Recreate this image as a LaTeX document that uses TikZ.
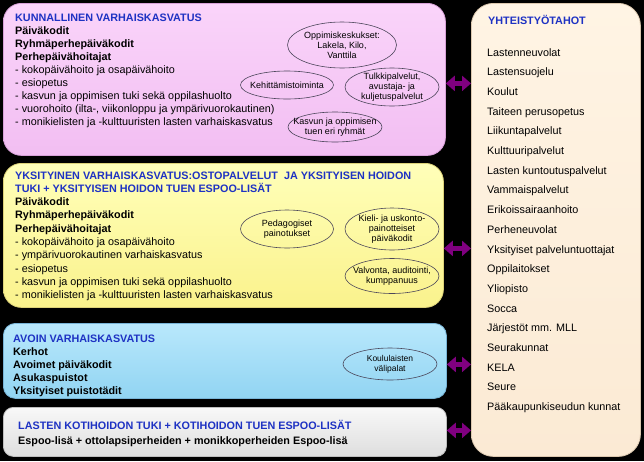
\documentclass[tikz,border=0pt]{standalone}
\usepackage{fontspec}
\setmainfont{Liberation Sans}
\usetikzlibrary{shapes.geometric,arrows.meta}
\definecolor{ttlblue}{RGB}{30,50,195}
\definecolor{apurple}{RGB}{128,0,128}
\definecolor{pinkT}{RGB}{250,212,250}
\definecolor{pinkB}{RGB}{242,190,242}
\definecolor{pinkD}{RGB}{215,160,215}
\definecolor{yelT}{RGB}{255,255,185}
\definecolor{yelB}{RGB}{250,242,140}
\definecolor{yelD}{RGB}{220,210,120}
\definecolor{bluT}{RGB}{185,232,252}
\definecolor{bluB}{RGB}{145,212,242}
\definecolor{bluD}{RGB}{120,180,215}
\definecolor{gryT}{RGB}{248,248,248}
\definecolor{gryB}{RGB}{222,222,222}
\definecolor{gryD}{RGB}{190,190,190}
\definecolor{begT}{RGB}{255,244,228}
\definecolor{begB}{RGB}{251,234,212}
\definecolor{begD}{RGB}{220,200,175}
\definecolor{ellD}{RGB}{75,70,90}
\tikzset{
  box/.style={rectangle, anchor=north west, inner sep=0pt, line width=0.8pt},
  ttl/.style={anchor=base west, inner sep=0pt, text=ttlblue, font=\fontsize{10.8}{13}\selectfont\bfseries},
  bld/.style={anchor=base west, inner sep=0pt, text=black, font=\fontsize{10.8}{13}\selectfont\bfseries},
  reg/.style={anchor=base west, inner sep=0pt, text=black, font=\fontsize{10.8}{13}\selectfont},
  ell/.style={ellipse, draw=ellD, line width=0.6pt, inner sep=0pt},
  etext/.style={align=center, inner sep=0pt, text=black, font=\fontsize{9}{10}\selectfont},
  dblarrow/.style={draw=apurple, line width=5pt, arrows={Triangle[width=15pt,length=9pt]-Triangle[width=15pt,length=9pt]}}
}
\begin{document}
\begin{tikzpicture}[x=1pt,y=-1pt]
\fill[black] (0,0) rectangle (644,461);
\useasboundingbox (0,0) rectangle (644,461);
% boxes
\node[box, rounded corners=18pt, draw=pinkD, top color=pinkT, bottom color=pinkB, minimum width=442pt, minimum height=152pt] (pink) at (3,3) {};
\node[box, rounded corners=18pt, draw=yelD, top color=yelT, bottom color=yelB, minimum width=440pt, minimum height=144pt] (yel) at (3,163) {};
\node[box, rounded corners=12pt, draw=bluD, top color=bluT, bottom color=bluB, minimum width=443pt, minimum height=75pt] (blu) at (3,323) {};
\node[box, rounded corners=10pt, draw=gryD, top color=gryT, bottom color=gryB, minimum width=443pt, minimum height=49pt] (gry) at (3,407) {};
\node[box, rounded corners=22pt, draw=begD, top color=begT, bottom color=begB, minimum width=169pt, minimum height=453pt] (yt) at (471,3) {};
% pink text
\node[ttl] (p1) at (15,21) {KUNNALLINEN VARHAISKASVATUS};
\foreach [count=\i] \t in {{Päiväkodit},{Ryhmäperhepäiväkodit},{Perhepäivähoitajat}}
  \node[bld] (pb\i) at (15,{21+13.1*\i}) {\t};
\foreach [count=\i from 4] \t in {{- kokopäivähoito ja osapäivähoito},{- esiopetus},{- kasvun ja oppimisen tuki sekä oppilashuolto},{- vuorohoito (ilta-, viikonloppu ja ympärivuorokautinen)},{- monikielisten ja -kulttuuristen lasten varhaiskasvatus}}
  \node[reg] (pr\i) at (15,{21+13.1*\i}) {\t};
% pink ellipses
\node[ell, minimum width=109pt, minimum height=46pt] (pe1) at (342,45) {};
\node[etext] (pe1t) at (pe1) {Oppimiskeskukset:\\Lakela, Kilo,\\Vanttila};
\node[ell, minimum width=93pt, minimum height=28pt] (pe2) at (287,85) {};
\node[etext] (pe2t) at (pe2) {Kehittämistoiminta};
\node[ell, minimum width=94pt, minimum height=38pt] (pe3) at (392,87) {};
\node[etext] (pe3t) at (pe3) {Tulkkipalvelut,\\avustaja- ja\\kuljetuspalvelut};
\node[ell, minimum width=94pt, minimum height=30pt] (pe4) at (335,127) {};
\node[etext] (pe4t) at (pe4) {Kasvun ja oppimisen\\tuen eri ryhmät};
% yellow text
\node[ttl] (y1) at (15,179) {YKSITYINEN VARHAISKASVATUS:OSTOPALVELUT \ JA YKSITYISEN HOIDON};
\node[ttl] (y2) at (15,{179+13.3}) {TUKI + YKSITYISEN HOIDON TUEN ESPOO-LISÄT};
\foreach [count=\i from 2] \t in {{Päiväkodit},{Ryhmäperhepäiväkodit},{Perhepäivähoitajat}}
  \node[bld] (yb\i) at (15,{179+13.3*\i}) {\t};
\foreach [count=\i from 5] \t in {{- kokopäivähoito ja osapäivähoito},{- ympärivuorokautinen varhaiskasvatus},{- esiopetus},{- kasvun ja oppimisen tuki sekä oppilashuolto},{- monikielisten ja -kulttuuristen lasten varhaiskasvatus}}
  \node[reg] (yr\i) at (15,{179+13.3*\i}) {\t};
% yellow ellipses
\node[ell, minimum width=93pt, minimum height=38pt] (ye1) at (287,229) {};
\node[etext] (ye1t) at (ye1) {Pedagogiset\\painotukset};
\node[ell, minimum width=94pt, minimum height=42pt] (ye2) at (392,229) {};
\node[etext] (ye2t) at (ye2) {Kieli- ja uskonto-\\painotteiset\\päiväkodit};
\node[ell, minimum width=94pt, minimum height=35pt] (ye3) at (392,276) {};
\node[etext] (ye3t) at (ye3) {Valvonta, auditointi,\\kumppanuus};
% blue text
\node[ttl] (b1) at (13,342) {AVOIN VARHAISKASVATUS};
\foreach [count=\i] \t in {{Kerhot},{Avoimet päiväkodit},{Asukaspuistot},{Yksityiset puistotädit}}
  \node[bld] (bb\i) at (13,{342+13*\i}) {\t};
\node[ell, minimum width=94pt, minimum height=32pt] (be1) at (390,364) {};
\node[etext, font=\fontsize{8.5}{10}\selectfont] (be1t) at (be1) {Koululaisten\\välipalat};
% gray text
\node[ttl] (g1) at (18,429) {LASTEN KOTIHOIDON TUKI + KOTIHOIDON TUEN ESPOO-LISÄT};
\node[bld] (g2) at (18,444) {Espoo-lisä + ottolapsiperheiden + monikkoperheiden Espoo-lisä};
% right column
\node[ttl] (r0) at (488,24) {YHTEISTYÖTAHOT};
\foreach [count=\i from 0] \t in {{Lastenneuvolat},{Lastensuojelu},{Koulut},{Taiteen perusopetus},{Liikuntapalvelut},{Kulttuuripalvelut},{Lasten kuntoutuspalvelut},{Vammaispalvelut},{Erikoissairaanhoito},{Perheneuvolat},{Yksityiset palveluntuottajat},{Oppilaitokset},{Yliopisto},{Socca},{Järjestöt mm. MLL},{Seurakunnat},{KELA},{Seure},{Pääkaupunkiseudun kunnat}}
  \node[reg] (ri\i) at (487,{56+19.7*\i}) {\t};
% arrows
\coordinate (a1) at ([yshift=-4pt]pink.east);
\coordinate (a2) at ([yshift=-13pt]yel.east);
\coordinate (a3) at ([yshift=-3.5pt]blu.east);
\coordinate (a4) at ([yshift=1.5pt]gry.east);
\draw[dblarrow] (a1) -- (a1 -| yt.west);
\draw[dblarrow] (a2) -- (a2 -| yt.west);
\draw[dblarrow] (a3) -- (a3 -| yt.west);
\draw[dblarrow] (a4) -- (a4 -| yt.west);
\end{tikzpicture}
\end{document}
